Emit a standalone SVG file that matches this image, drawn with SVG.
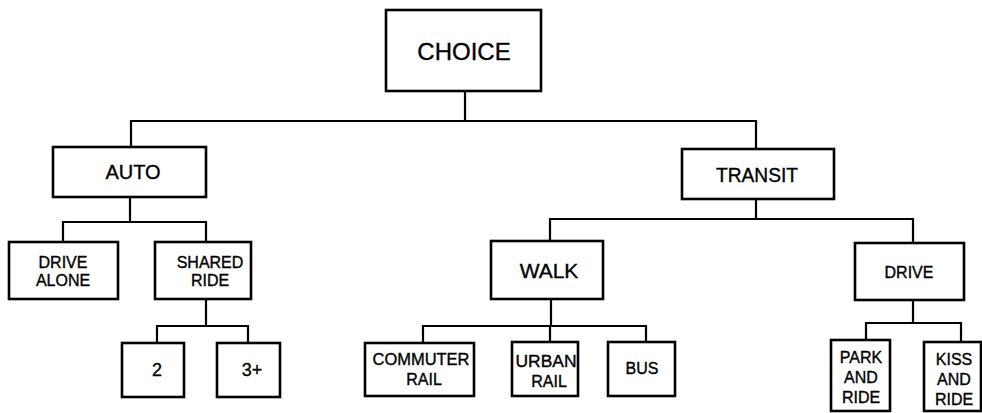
<svg xmlns="http://www.w3.org/2000/svg" width="982" height="413" viewBox="0 0 982 413">
<style>
.box{fill:#fff;stroke:#000;stroke-width:2.6}
.ln{fill:none;stroke:#000;stroke-width:2.2;stroke-linecap:square}
text{font-family:"Liberation Sans",Arial,sans-serif;fill:#000;stroke:#000;stroke-width:0.35;text-anchor:middle}
.s24{font-size:24px}
.s20{font-size:20px}
.s16{font-size:16px}
.s18{font-size:18px}
</style>
<rect width="982" height="413" fill="#fff"/>
<g id="connectors">
<path class="ln" d="M465 91V121M132 121H756M131 121V147M756 121V149"/>
<path class="ln" d="M130 197V222M63 222H206M63 222V242M206 222V242"/>
<path class="ln" d="M206 299V326M157 326H248M157 326V343M248 326V343"/>
<path class="ln" d="M756 199V219M550 219H913M550 219V241M913 219V243"/>
<path class="ln" d="M551 299V326M423 326H646M423 326V343M550 326V342M646 326V342"/>
<path class="ln" d="M913 300V323M866 323H961M866 323V340M961 323V342"/>
</g>
<g id="choice"><rect class="box" x="386" y="10" width="155" height="81"/><text class="s24" x="464" y="60">CHOICE</text></g>
<g id="auto"><rect class="box" x="53" y="147" width="153" height="50"/><text class="s20" x="133" y="179">AUTO</text></g>
<g id="transit"><rect class="box" x="682" y="149" width="152" height="50"/><text class="s20" x="757" y="182" textLength="82" lengthAdjust="spacingAndGlyphs">TRANSIT</text></g>
<g id="drive-alone"><rect class="box" x="9" y="242" width="109" height="57"/><text class="s16" x="63" y="268">DRIVE</text><text class="s16" x="63" y="286">ALONE</text></g>
<g id="shared-ride"><rect class="box" x="155" y="242" width="96" height="57"/><text class="s16" x="210" y="268">SHARED</text><text class="s16" x="210" y="286">RIDE</text></g>
<g id="two"><rect class="box" x="122" y="343" width="62" height="54"/><text class="s18" x="157" y="376">2</text></g>
<g id="three-plus"><rect class="box" x="217" y="343" width="63" height="54"/><text class="s18" x="252" y="376">3+</text></g>
<g id="walk"><rect class="box" x="491" y="241" width="112" height="58"/><text class="s20" x="549" y="278" style="font-size:21px">WALK</text></g>
<g id="drive"><rect class="box" x="855" y="243" width="109" height="57"/><text class="s16" x="909" y="278">DRIVE</text></g>
<g id="commuter-rail"><rect class="box" x="365" y="343" width="109" height="53"/><text class="s16" x="421" y="365" textLength="97" lengthAdjust="spacingAndGlyphs">COMMUTER</text><text class="s16" x="424" y="385">RAIL</text></g>
<g id="urban-rail"><rect class="box" x="512" y="342" width="66" height="54"/><text class="s16" x="546" y="367" textLength="61" lengthAdjust="spacingAndGlyphs">URBAN</text><text class="s16" x="549" y="387">RAIL</text></g>
<g id="bus"><rect class="box" x="608" y="342" width="67" height="54"/><text class="s16" x="642" y="374">BUS</text></g>
<g id="park-and-ride"><rect class="box" x="831" y="340" width="59" height="71"/><text class="s16" x="861" y="363">PARK</text><text class="s16" x="861" y="383">AND</text><text class="s16" x="861" y="403">RIDE</text></g>
<g id="kiss-and-ride"><rect class="box" x="924" y="342" width="57" height="69"/><text class="s16" x="954" y="365">KISS</text><text class="s16" x="954" y="385">AND</text><text class="s16" x="954" y="405">RIDE</text></g>
</svg>
